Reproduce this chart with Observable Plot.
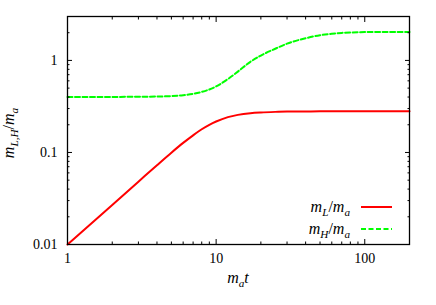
<!DOCTYPE html>
<html><head><meta charset="utf-8">
<script src="https://cdn.jsdelivr.net/npm/d3@7"></script>
<script src="https://cdn.jsdelivr.net/npm/@observablehq/plot@0.6"></script>
<style>body{margin:0;background:#fff} svg{display:block}</style>
</head><body><div id="chart"></div>
<script>
// data
const tLight = [1, 2, 3, 4, 5, 6, 7, 8, 9, 10, 12, 14, 17, 20, 25, 30, 40, 50, 100, 200];
const mLight = [0.010, 0.0269, 0.0481, 0.0727, 0.0995, 0.127, 0.1535, 0.1786, 0.1996, 0.2168, 0.242, 0.256, 0.267, 0.272, 0.276, 0.278, 0.279, 0.28, 0.28, 0.28];
const tHeavy = [1, 2, 3, 4, 5, 6, 7, 8, 9, 10, 12, 14, 17, 20, 25, 30, 40, 50, 60, 70, 100, 150, 200];
const mHeavy = [0.40, 0.401, 0.403, 0.405, 0.41, 0.419, 0.433, 0.455, 0.483, 0.522, 0.627, 0.756, 0.965, 1.13, 1.34, 1.52, 1.74, 1.88, 1.95, 1.99, 2.03, 2.04, 2.04];
const xMajor = [1, 10, 100];
const xTickLabels = ["1", "10", "100"];
const xMinor = [2,3,4,5,6,7,8,9,20,30,40,50,60,70,80,90,200];
const yMajor = [0.01, 0.1, 1];
const yTickLabels = ["0.01", "0.1", "1"];
const yMinor = [0.02,0.03,0.04,0.05,0.06,0.07,0.08,0.09,0.2,0.3,0.4,0.5,0.6,0.7,0.8,0.9,2,3];
const seriesColors = ["#ff0000", "#00ff00"];

const lightRows = tLight.map((t, i) => ({t, m: mLight[i]}));
const heavyRows = tHeavy.map((t, i) => ({t, m: mHeavy[i]}));

const W = 436, H = 305, ML = 67, MR = 27, MT = 16, MB = 61;
const serif = "'Liberation Serif', 'Times New Roman', serif";
const blank = () => "";

const plot = Plot.plot({
  width: W, height: H,
  marginLeft: ML, marginRight: MR, marginTop: MT, marginBottom: MB,
  style: {fontFamily: serif, fontSize: "14px", background: "white", color: "black"},
  x: {type: "log", domain: [1, 200]},
  y: {type: "log", domain: [0.01, 3]},
  marks: [
    Plot.line(lightRows, {x: "t", y: "m", stroke: seriesColors[0], strokeWidth: 2, curve: "monotone-x"}),
    Plot.line(heavyRows, {x: "t", y: "m", stroke: seriesColors[1], strokeWidth: 2, strokeDasharray: "5,2.5", curve: "monotone-x"}),
    Plot.axisX(xMajor, {anchor: "bottom", tickSize: -5, tickFormat: blank, label: null}),
    Plot.axisX(xMinor, {anchor: "bottom", tickSize: -2.5, tickFormat: blank, label: null}),
    Plot.axisX(xMajor, {anchor: "top", tickSize: -5, tickFormat: blank, label: null}),
    Plot.axisX(xMinor, {anchor: "top", tickSize: -2.5, tickFormat: blank, label: null}),
    Plot.axisY(yMajor, {anchor: "left", tickSize: -5, tickFormat: blank, label: null}),
    Plot.axisY(yMinor, {anchor: "left", tickSize: -2.5, tickFormat: blank, label: null}),
    Plot.axisY(yMajor, {anchor: "right", tickSize: -5, tickFormat: blank, label: null}),
    Plot.axisY(yMinor, {anchor: "right", tickSize: -2.5, tickFormat: blank, label: null}),
    Plot.axisX(xMajor, {anchor: "bottom", tickSize: 0, tickPadding: 9, fontSize: 14, fontFamily: serif, tickFormat: d => xTickLabels[xMajor.indexOf(d)], label: null}),
    Plot.axisY(yMajor, {anchor: "left", tickSize: 0, tickPadding: 10, fontSize: 14, fontFamily: serif, tickFormat: d => yTickLabels[yMajor.indexOf(d)], label: null}),
    Plot.frame({stroke: "black", strokeWidth: 1.3})
  ]
});
document.getElementById("chart").appendChild(plot);

// math-style labels with subscripts
const svg = d3.select(plot);
function mathText(sel, parts, size) {
  const txt = sel.append("text")
    .attr("font-family", serif).attr("font-style", "italic")
    .attr("font-size", size).attr("fill", "black");
  let shifted = false;
  for (const p of parts) {
    const ts = txt.append("tspan").text(p.t);
    if (p.sub) {
      ts.attr("font-size", size * 0.7);
      if (!shifted) { ts.attr("dy", size * 0.28); shifted = true; }
    } else if (shifted) {
      ts.attr("dy", -size * 0.28); shifted = false;
    }
    if (p.up) ts.attr("font-style", "normal");
  }
  return txt;
}
const plotRight = W - MR, plotBottom = H - MB;
// x label
mathText(svg.append("g").attr("transform", `translate(${(ML + plotRight) / 2},${plotBottom + 39})`),
  [{t: "m"}, {t: "a", sub: true}, {t: "t"}], 16).attr("text-anchor", "middle");
// y label
mathText(svg.append("g").attr("transform", `translate(14,${(MT + plotBottom) / 2 + 3}) rotate(-90)`),
  [{t: "m"}, {t: "L,H", sub: true}, {t: "/", up: true}, {t: "m"}, {t: "a", sub: true}], 16).attr("text-anchor", "middle");
// legend
const legendItems = [
  {parts: [{t: "m"}, {t: "L", sub: true}, {t: "/", up: true}, {t: "m"}, {t: "a", sub: true}], color: seriesColors[0], dash: null},
  {parts: [{t: "m"}, {t: "H", sub: true}, {t: "/", up: true}, {t: "m"}, {t: "a", sub: true}], color: seriesColors[1], dash: "5,2.5"}
];
legendItems.forEach((it, i) => {
  const yy = plotBottom - 37 + i * 22;
  const x2 = plotRight - 17, x1 = x2 - 31;
  const g = svg.append("g").attr("transform", `translate(0,${yy})`);
  mathText(g.append("g").attr("transform", `translate(${x1 - 11},5)`), it.parts, 16).attr("text-anchor", "end");
  const ln = g.append("line").attr("x1", x1).attr("x2", x2).attr("y1", 0).attr("y2", 0)
    .attr("stroke", it.color).attr("stroke-width", 2);
  if (it.dash) ln.attr("stroke-dasharray", it.dash);
});
</script>
</body></html>
